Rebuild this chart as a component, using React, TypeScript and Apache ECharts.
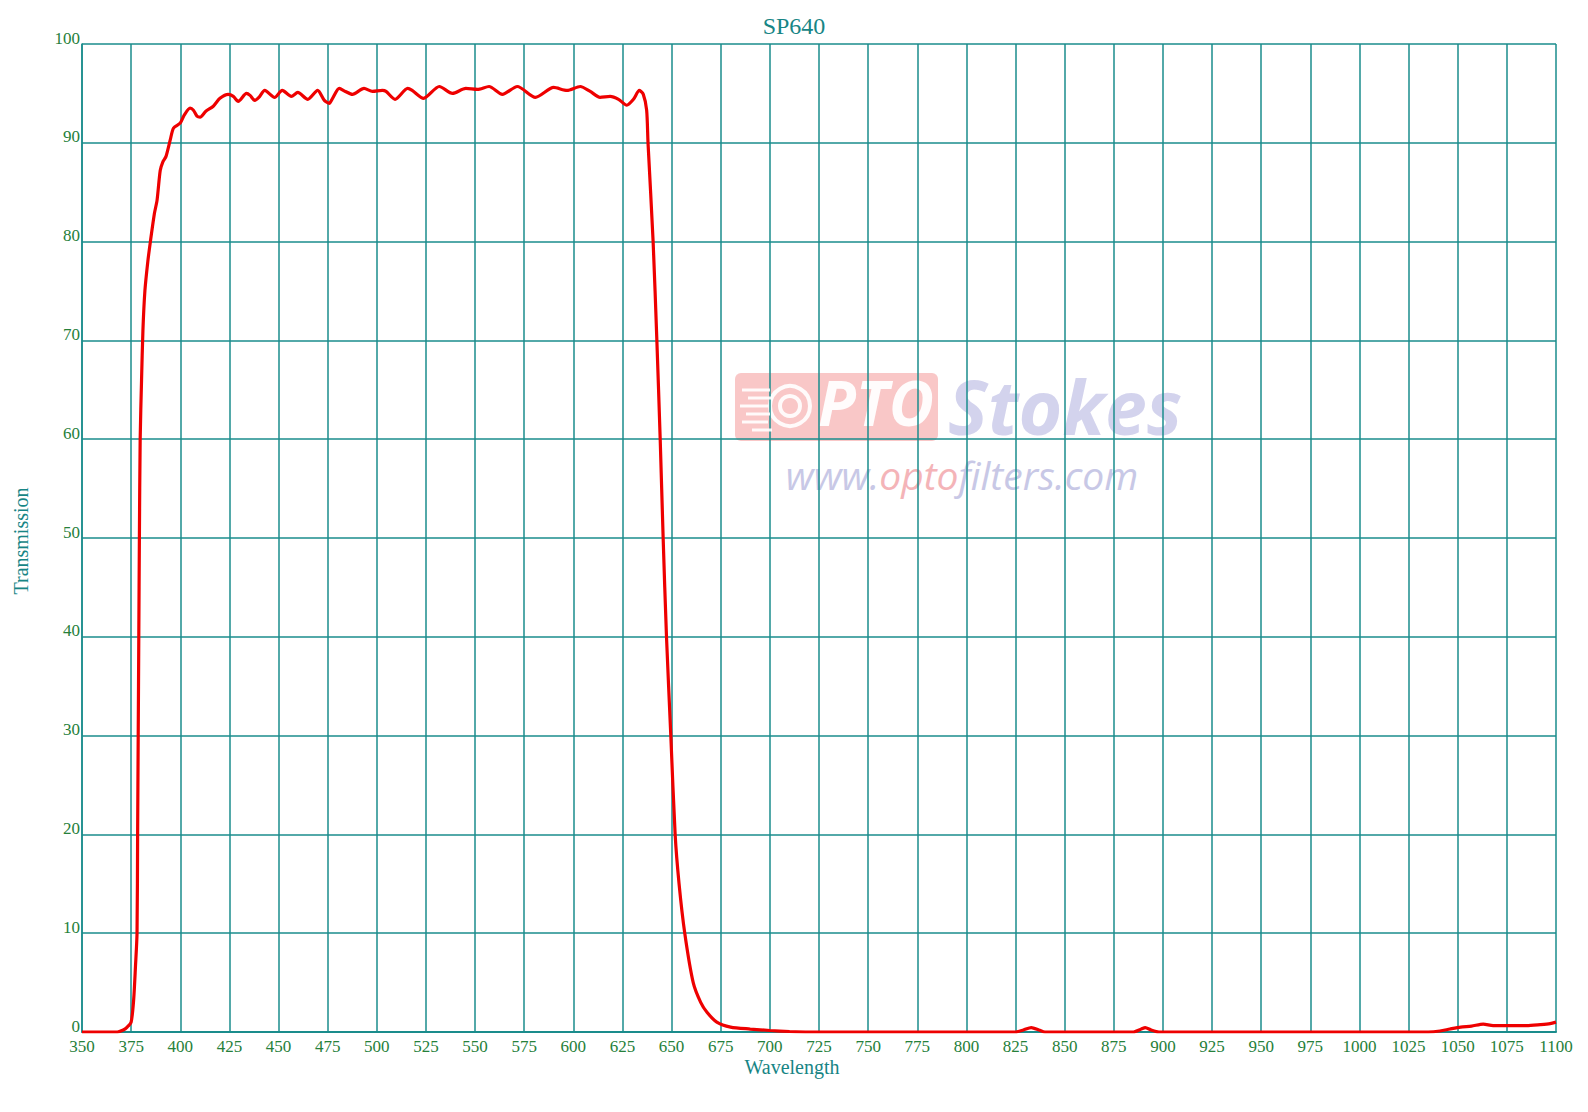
import React, { useEffect, useRef } from "react";
import * as echarts from "echarts";

const wavelengths: number[] = [
  350, 360, 368, 371, 373, 375, 376.3, 377.2, 378, 378.3, 378.6, 378.9, 379.2, 379.6, 380.3, 381, 382, 383.5,
  384.8, 386.8, 388.2, 389.8, 391.2, 392.7, 394.9, 396.6, 400, 402, 405, 406.7, 408.5, 410.1, 413, 416.8,
  420.2, 424.4, 427, 429.5, 433.7, 435.5, 437.9, 440, 443, 448, 451.9, 456.5, 459.8, 464.9, 469.9, 473.3,
  475.8, 477.5, 480.9, 484, 487.6, 493.5, 497.8, 502.8, 504.7, 509.3, 515.7, 518, 523.8, 531.8, 538.5,
  545.3, 551.2, 557.1, 563.9, 571.5, 580.7, 590, 596.8, 603.5, 608.6, 613.6, 618.7, 623, 627.2, 630.6,
  633.6, 635.6, 637.3, 638, 640.6, 642.5, 644.2, 645.7, 647.4, 649.6, 651.8, 653.8, 656.7, 661, 664.8,
  668, 673, 680, 690, 700, 710, 720, 825, 829, 833, 837, 840, 885, 889, 891, 894, 898, 1035, 1041, 1046,
  1051.5, 1057, 1063, 1068, 1076.5, 1085, 1092, 1097, 1100,
];

const transmission: number[] = [
  0, 0, 0, 0.2, 0.5, 1.0, 3.3, 6.6, 10, 20, 30, 40, 50, 60, 66, 71, 75, 78,
  80, 82.8, 84.2, 87.2, 88.1, 88.6, 90.3, 91.5, 92.0, 92.8, 93.5, 93.3, 92.7, 92.6, 93.2, 93.7,
  94.5, 94.9, 94.7, 94.2, 95.0, 94.8, 94.3, 94.6, 95.3, 94.6, 95.3, 94.7, 95.1, 94.4, 95.3, 94.3,
  94.0, 94.5, 95.5, 95.2, 94.9, 95.5, 95.2, 95.3, 95.2, 94.4, 95.5, 95.3, 94.5, 95.7, 95.0,
  95.5, 95.4, 95.7, 94.9, 95.7, 94.6, 95.6, 95.3, 95.7, 95.2, 94.6, 94.7, 94.4, 93.8, 94.4,
  95.3, 94.9, 93.3, 90, 80, 70, 60, 50, 40, 30, 20, 15, 10, 5, 3,
  2, 1, 0.5, 0.3, 0.15, 0.05, 0, 0, 0.2, 0.45, 0.2, 0, 0, 0.3, 0.45, 0.2, 0, 0, 0.1, 0.3,
  0.5, 0.6, 0.8, 0.65, 0.65, 0.65, 0.75, 0.85, 1.0,
];

const chartTitle = "SP640";
const xAxisTitle = "Wavelength";
const yAxisTitle = "Transmission";
const xMin = 350;
const xMax = 1100;
const xStep = 25;
const yMin = 0;
const yMax = 100;
const yStep = 10;

const TEAL = "#178585";
const GRID = "#1a8c8c";
const LABEL = "#26803a";
const SERIF = "'Liberation Serif', 'Times New Roman', serif";
const SANS = "'Open Sans', sans-serif";

export default function App() {
  const ref = useRef<HTMLDivElement>(null);

  useEffect(() => {
    if (!ref.current) return;
    const chart = echarts.init(ref.current, undefined, { renderer: "svg" });
    const data = wavelengths.map((w, i) => [w, transmission[i]]);

    const speedLines = [
      [742, 390, 770], [748, 398, 772], [740, 406, 768], [746, 414, 770], [742, 422, 768], [752, 430, 772],
    ].map(([x1, y, x2]) => ({
      type: "line",
      shape: { x1, y1: y, x2, y2: y },
      style: { stroke: "#ffffff", lineWidth: 3, opacity: 0.9 },
      z: 1,
    }));

    chart.setOption({
      animation: false,
      backgroundColor: "#ffffff",
      title: {
        text: chartTitle,
        left: "center",
        top: 9,
        textStyle: { fontFamily: SERIF, fontSize: 24, fontWeight: "normal", color: TEAL },
      },
      grid: { left: 82, top: 44, width: 1474, height: 988, containLabel: false },
      xAxis: {
        type: "value",
        min: xMin,
        max: xMax,
        interval: xStep,
        axisLine: { show: true, onZero: false, lineStyle: { color: GRID, width: 2 } },
        axisTick: { show: false },
        axisLabel: {
          color: LABEL,
          fontFamily: SERIF,
          fontSize: 17,
          margin: 6,
          lineHeight: 17,
          formatter: (v: number) => String(v),
        },
        splitLine: { show: true, lineStyle: { color: GRID, width: 1.5 } },
      },
      yAxis: {
        type: "value",
        min: yMin,
        max: yMax,
        interval: yStep,
        axisLine: { show: true, lineStyle: { color: GRID, width: 1.5 } },
        axisTick: { show: false },
        axisLabel: {
          color: LABEL,
          fontFamily: SERIF,
          fontSize: 17,
          margin: 2,
          verticalAlign: "bottom",
          lineHeight: 12,
          formatter: (v: number) => String(v),
        },
        splitLine: { show: true, lineStyle: { color: GRID, width: 1.5 } },
      },
      graphic: [
        {
          type: "group",
          silent: true,
          z: 1,
          children: [
            {
              type: "rect",
              shape: { x: 735, y: 373, width: 203, height: 68, r: 6 },
              style: { fill: "#f07a7a", opacity: 0.42 },
            },
            ...speedLines,
            {
              type: "circle",
              shape: { cx: 790, cy: 406, r: 20 },
              style: { fill: "none", stroke: "#ffffff", lineWidth: 4, opacity: 0.9 },
            },
            {
              type: "circle",
              shape: { cx: 790, cy: 406, r: 10 },
              style: { fill: "none", stroke: "#ffffff", lineWidth: 4, opacity: 0.9 },
            },
            {
              type: "text",
              x: 818,
              y: 433,
              style: {
                text: "PTO",
                fill: "#ffffff",
                opacity: 0.95,
                fontFamily: SANS,
                fontStyle: "italic",
                fontWeight: "bold",
                fontSize: 62,
                textVerticalAlign: "bottom",
              },
            },
            {
              type: "text",
              x: 948,
              y: 443,
              style: {
                text: "Stokes",
                fill: "#b8b8e2",
                opacity: 0.62,
                fontFamily: SANS,
                fontStyle: "italic",
                fontWeight: "bold",
                fontSize: 75,
                lineHeight: 75,
                textVerticalAlign: "bottom",
              },
            },
            {
              type: "text",
              x: 962,
              y: 474,
              style: {
                text: "{a|www.}{b|opto}{a|filters.com}",
                textAlign: "center",
                textVerticalAlign: "middle",
                fontFamily: SANS,
                fontStyle: "italic",
                fontSize: 39,
                lineHeight: 34,
                rich: {
                  a: { fill: "#c8c8e6", fontSize: 39, lineHeight: 34, fontStyle: "italic", fontFamily: SANS },
                  b: { fill: "#f4b4b8", fontSize: 39, lineHeight: 34, fontStyle: "italic", fontFamily: SANS },
                },
              },
            },
          ],
        },
        {
          type: "text",
          x: 792,
          y: 1067,
          style: {
            text: xAxisTitle,
            fill: TEAL,
            fontFamily: SERIF,
            fontSize: 20,
            textAlign: "center",
            textVerticalAlign: "middle",
          },
        },
        {
          type: "text",
          x: 21,
          y: 541,
          rotation: Math.PI / 2,
          style: {
            text: yAxisTitle,
            fill: TEAL,
            fontFamily: SERIF,
            fontSize: 20,
            textAlign: "center",
            textVerticalAlign: "middle",
          },
        },
      ],
      series: [
        {
          type: "line",
          data,
          smooth: 0.25,
          showSymbol: false,
          symbol: "none",
          z: 5,
          lineStyle: { color: "#ee0000", width: 3.2 },
        },
      ],
    });

    return () => {
      chart.dispose();
    };
  }, []);

  return (
    <div
      ref={ref}
      style={{ position: "absolute", left: 0, top: 0, width: 1588, height: 1112 }}
    />
  );
}
